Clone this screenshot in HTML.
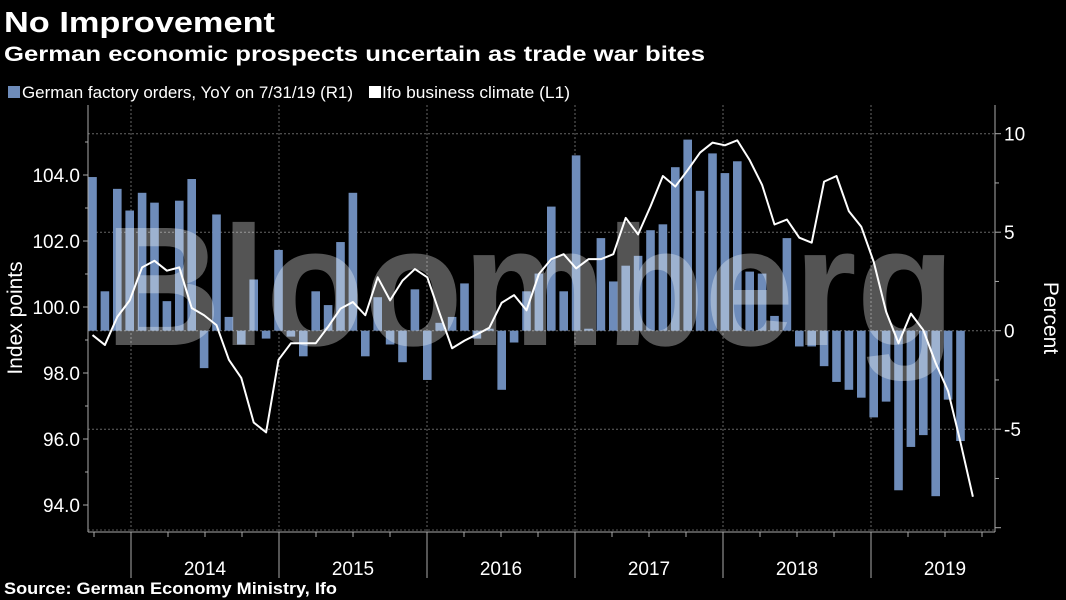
<!DOCTYPE html>
<html><head><meta charset="utf-8"><style>
body{margin:0;background:#000;width:1066px;height:600px;overflow:hidden;font-family:"Liberation Sans",sans-serif;color:#fff}
svg{display:block}
</style></head><body>
<svg id="chart" width="1066" height="600">
<text x="4" y="32" font-size="29" font-weight="bold" fill="#fff" textLength="271" lengthAdjust="spacingAndGlyphs">No Improvement</text>
<text x="4" y="61" font-size="21" font-weight="bold" fill="#fff" textLength="701" lengthAdjust="spacingAndGlyphs">German economic prospects uncertain as trade war bites</text>
<g>
<rect x="8" y="86" width="12" height="12" fill="#6e8cba"/>
<text x="22" y="98" font-size="17" fill="#fff" textLength="331" lengthAdjust="spacingAndGlyphs">German factory orders, YoY on 7/31/19 (R1)</text>
<rect x="369" y="86" width="12" height="12" fill="#fff"/>
<text x="382" y="98" font-size="17" fill="#fff" textLength="188" lengthAdjust="spacingAndGlyphs">Ifo business climate (L1)</text>
</g>
<g id="grid"></g>
<g id="bars"></g>
<text x="530" y="345" font-size="170" font-weight="bold" fill="rgba(255,255,255,0.33)" text-anchor="middle" textLength="850" lengthAdjust="spacingAndGlyphs">Bloomberg</text>
<g id="line"></g>
<g id="axes"></g>
<text transform="translate(22,318) rotate(-90)" font-size="21" fill="#fff" text-anchor="middle">Index points</text>
<text transform="translate(1044,318) rotate(90)" font-size="21" fill="#fff" text-anchor="middle">Percent</text>
<text x="4" y="594" font-size="17" font-weight="bold" fill="#fff" textLength="333" lengthAdjust="spacingAndGlyphs">Source: German Economy Ministry, Ifo</text>
</svg>
<script>
const orders = [7.8,2.0,7.2,6.1,7.0,6.5,1.5,6.6,7.7,-1.9,5.9,0.7,-0.7,2.6,-0.4,4.1,-0.3,-1.3,2.0,1.3,4.5,7.0,-1.3,1.7,-0.7,-1.6,
2.1,-2.5,0.4,0.7,2.4,-0.4,0.1,-3.0,-0.6,2.0,2.9,6.3,2.0,8.9,0.1,4.7,2.5,3.3,3.8,5.1,5.4,8.3,9.7,7.1,9.0,
8.0,8.6,3.0,2.9,0.75,4.7,-0.8,-0.8,-1.8,-2.6,-3.0,-3.4,-4.4,-3.6,-8.1,-5.9,-5.3,-8.4,-3.5,-5.6];
const ifo = [99.15,98.85,99.7,100.2,101.2,101.4,101.1,101.2,99.97,99.75,99.45,98.4,97.85,96.5,96.2,98.4,98.9,98.9,98.9,99.4,99.95,100.15,99.75,100.9,100.2,
100.8,101.15,100.9,99.8,98.75,98.98,99.17,99.37,100.13,100.36,99.9,101.0,101.45,101.6,101.17,101.45,101.45,101.6,102.7,102.2,103.05,103.97,103.65,104.15,104.68,104.98,
104.9,105.05,104.45,103.7,102.5,102.65,102.1,101.95,103.8,103.97,102.9,102.43,101.37,99.86,98.9,99.8,99.3,98.3,97.45,95.9,94.25];
const years = ["2014","2015","2016","2017","2018","2019"];
const leftTicks = [94,96,98,100,102,104];
const rightTicks = [-5,0,5,10];

const NS="http://www.w3.org/2000/svg";
const X0=92.5, PITCH=12.4, YEAR0=131, YEARW=148;
const xAt=i=>X0+i*PITCH;
const yL=v=>307-(v-100)*33;
const yR=v=>330.7-v*19.7;
function mk(tag,attrs,parent){const e=document.createElementNS(NS,tag);for(const k in attrs)e.setAttribute(k,attrs[k]);parent.appendChild(e);return e;}
const grid=document.getElementById('grid'),bars=document.getElementById('bars'),lineG=document.getElementById('line'),axes=document.getElementById('axes');
const L=88,R=995,T=105,B=532;
rightTicks.forEach(v=>{const g=mk('line',{x1:L,x2:R,y1:yR(v),y2:yR(v),stroke:'#666','stroke-dasharray':'2,2','stroke-width':1},grid);

});
mk('line',{x1:L,x2:R,y1:B-2,y2:B-2,stroke:'#555','stroke-dasharray':'2,2'},grid);
years.forEach((y,k)=>{const x=YEAR0+k*YEARW;const g=mk('line',{x1:x,x2:x,y1:T,y2:B,stroke:'#666','stroke-dasharray':'2,2'},grid);

});
orders.forEach((v,i)=>{const y0=yR(0),y1=yR(v);const r=mk('rect',{x:xAt(i)-4.3,width:8.6,y:Math.min(y0,y1),height:Math.max(0.5,Math.abs(y1-y0)),fill:'#6e8cba'},bars);

});
const p=mk('polyline',{points:ifo.map((v,i)=>xAt(i)+','+yL(v)).join(' '),fill:'none',stroke:'#fff','stroke-width':2,'stroke-linejoin':'round'},lineG);


mk('line',{x1:L,x2:L,y1:T,y2:B,stroke:'#aaa'},axes);
mk('line',{x1:R,x2:R,y1:T,y2:B,stroke:'#aaa'},axes);
mk('line',{x1:L,x2:R,y1:B,y2:B,stroke:'#aaa'},axes);
for(let v=94;v<=105;v++){mk('line',{x1:L-(v%2===0?5:3),x2:L,y1:yL(v),y2:yL(v),stroke:'#aaa'},axes);}
leftTicks.forEach(v=>{const t=mk('text',{x:L-8,y:yL(v)+7,'font-size':19,fill:'#fff','text-anchor':'end'},axes);t.textContent=v.toFixed(1);

});
for(let v=-10;v<=11;v+=2.5){if(yR(v)<T||yR(v)>B)continue;mk('line',{x1:R,x2:R+(v%5===0?6:4),y1:yR(v),y2:yR(v),stroke:'#aaa'},axes);}
rightTicks.forEach(v=>{const t=mk('text',{x:R+9,y:yR(v)+7,'font-size':19,fill:'#fff'},axes);t.textContent=String(v);

});
for(let q=-1;q<=24;q++){const x=YEAR0+q*YEARW/4;if(x<L||x>R)continue;mk('line',{x1:x,x2:x,y1:B,y2:B+(q%4===0?46:5),stroke:'#aaa'},axes);}
years.forEach((y,k)=>{const t=mk('text',{x:YEAR0+k*YEARW+YEARW/2,y:575,'font-size':19,fill:'#fff','text-anchor':'middle'},axes);t.textContent=y;

});
</script>
</body></html>
